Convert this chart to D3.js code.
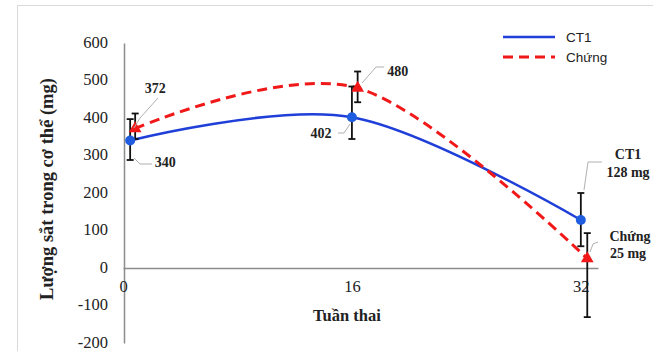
<!DOCTYPE html>
<html><head><meta charset="utf-8">
<script src="https://cdn.jsdelivr.net/npm/d3@7"></script>
<style>html,body{margin:0;padding:0;background:#fff;}svg{display:block;}</style>
</head><body>
<script>
// ---- data ----
const seriesNames = ["CT1", "Chứng"];
const ct1Weeks = [0.5, 16, 32];
const ct1Values = [340, 402, 128];
const ct1ErrUp = [57, 82, 72];
const ct1ErrDown = [52, 58, 70];
const chungWeeks = [0.85, 16.4, 32.45];
const chungValues = [372, 480, 25];
const chungErrUp = [40, 44, 68];
const chungErrDown = [28, 38, 156];
const xTicks = [0, 16, 32];
const yTicks = [-200, -100, 0, 100, 200, 300, 400, 500, 600];
const labelTexts = ["340", "372", "402", "480"];
const endLabelsCT1 = ["CT1", "128 mg"];
const endLabelsChung = ["Chứng", "25 mg"];
const xTitle = "Tuần thai";
const yTitle = "Lượng sắt trong cơ thể (mg)";

const W = 653, H = 351;
const svg = d3.select("body").append("svg").attr("width", W).attr("height", H);

// chart border
svg.append("rect").attr("x", 17.5).attr("y", 5.5).attr("width", 640).attr("height", 360)
  .attr("fill", "none").attr("stroke", "#d9d9d9").attr("stroke-width", 1);

const x = d3.scaleLinear().domain([0, 33.2]).range([123, 598]);
const y = d3.scaleLinear().domain([-200, 600]).range([343, 43]);

const serif = "'Liberation Serif','Times New Roman',serif";
const sans = "'Liberation Sans',Arial,sans-serif";

// y axis
const yAxis = d3.axisLeft(y).tickValues(yTicks).tickSize(0).tickPadding(16).tickFormat(d => String(d));
const gy = svg.append("g").attr("transform", `translate(${x(0) + 1},0)`).call(yAxis);
gy.select(".domain").attr("stroke", "#8c8c8c").attr("stroke-width", 1.5);
gy.selectAll("text").attr("dy", "0.25em").style("font-family", serif).style("font-size", "16.5px").attr("fill", "#222");

// x axis at zero
const xAxis = d3.axisBottom(x).tickValues(xTicks).tickSize(0).tickPadding(12).tickFormat(d => String(d));
const gx = svg.append("g").attr("transform", `translate(0,${y(0)})`).call(xAxis);
gx.select(".domain").attr("stroke", "#8c8c8c").attr("stroke-width", 1.5);
gx.selectAll("text").style("font-family", serif).style("font-size", "16.5px").attr("fill", "#222");

// titles
svg.append("text").attr("x", x(16) - 5).attr("y", 321).attr("text-anchor", "middle")
  .style("font-family", serif).attr("font-weight", "bold").style("font-size", "16.5px").attr("fill", "#222").text(xTitle);
svg.append("text").attr("transform", `translate(53,${189}) rotate(-90)`).attr("text-anchor", "middle")
  .style("font-family", serif).attr("font-weight", "bold").style("font-size", "18.5px").attr("fill", "#222").text(yTitle);

const blue = "#1f3fd8", red = "#f01818";
const line = d3.line().x(d => x(d[0])).y(d => y(d[1])).curve(d3.curveCardinal.tension(0));

const ct1 = ct1Weeks.map((w, i) => [w, ct1Values[i]]);
const chung = chungWeeks.map((w, i) => [w, chungValues[i]]);

svg.append("path").attr("d", line(ct1)).attr("fill", "none").attr("stroke", blue).attr("stroke-width", 2.5);
svg.append("path").attr("d", line(chung)).attr("fill", "none").attr("stroke", red).attr("stroke-width", 3)
  .attr("stroke-dasharray", "10,6");

// error bars
function errBars(weeks, vals, up, down) {
  const g = svg.append("g").attr("stroke", "#111").attr("stroke-width", 1.8);
  weeks.forEach((w, i) => {
    const cx = x(w), t = y(vals[i] + up[i]), b = y(vals[i] - down[i]);
    g.append("line").attr("x1", cx).attr("x2", cx).attr("y1", t).attr("y2", b);
    g.append("line").attr("x1", cx - 3.5).attr("x2", cx + 3.5).attr("y1", t).attr("y2", t);
    g.append("line").attr("x1", cx - 3.5).attr("x2", cx + 3.5).attr("y1", b).attr("y2", b);
  });
}
errBars(ct1Weeks, ct1Values, ct1ErrUp, ct1ErrDown);
errBars(chungWeeks, chungValues, chungErrUp, chungErrDown);

// markers
svg.selectAll(".dot").data(ct1).enter().append("circle")
  .attr("cx", d => x(d[0])).attr("cy", d => y(d[1])).attr("r", 5).attr("fill", "#1f5ce0");
svg.selectAll(".tri").data(chung).enter().append("path")
  .attr("d", d3.symbol().type(d3.symbolTriangle).size(70))
  .attr("transform", d => `translate(${x(d[0])},${y(d[1])})`).attr("fill", red);

// leader lines & labels
const lead = svg.append("g").attr("stroke", "#b0b0b0").attr("stroke-width", 1).attr("fill", "none");
function L(pts) { lead.append("path").attr("d", d3.line()(pts)); }
L([[158, 98], [140, 118], [134, 128]]);
L([[152, 164], [140, 164], [134, 158]]);
L([[338, 133], [344, 133], [350, 124]]);
L([[384, 67], [376, 67], [362, 83]]);
L([[602, 162], [588, 162], [584, 190]]);
L([[598, 242], [593, 244], [590, 252]]);

function lab(txt, lx, ly, size) {
  svg.append("text").attr("x", lx).attr("y", ly).attr("text-anchor", "middle").attr("dominant-baseline", "central")
    .style("font-family", serif).attr("font-weight", "bold").style("font-size", (size || 14) + "px").attr("fill", "#222").text(txt);
}
lab(labelTexts[0], x(ct1Weeks[0]) + 35, y(ct1Values[0]) + 22);
lab(labelTexts[1], x(chungWeeks[0]) + 20, y(chungValues[0]) - 40);
lab(labelTexts[2], x(ct1Weeks[1]) - 31, y(ct1Values[1]) + 16);
lab(labelTexts[3], x(chungWeeks[1]) + 40, y(chungValues[1]) - 17);
lab(endLabelsCT1[0], 628, 154);
lab(endLabelsCT1[1], 628, 172);
lab(endLabelsChung[0], 630, 236);
lab(endLabelsChung[1], 628, 253);

// legend
const lg = svg.append("g");
lg.append("line").attr("x1", 503).attr("x2", 555).attr("y1", 37).attr("y2", 37).attr("stroke", blue).attr("stroke-width", 2.5);
lg.append("line").attr("x1", 503).attr("x2", 555).attr("y1", 57).attr("y2", 57).attr("stroke", red).attr("stroke-width", 3).attr("stroke-dasharray", "10,6");
seriesNames.forEach((n, i) => {
  lg.append("text").attr("x", 566).attr("y", 37 + i * 20).attr("dominant-baseline", "central")
    .style("font-family", sans).style("font-size", "13.5px").attr("fill", "#222").text(n);
});
</script>
</body></html>
